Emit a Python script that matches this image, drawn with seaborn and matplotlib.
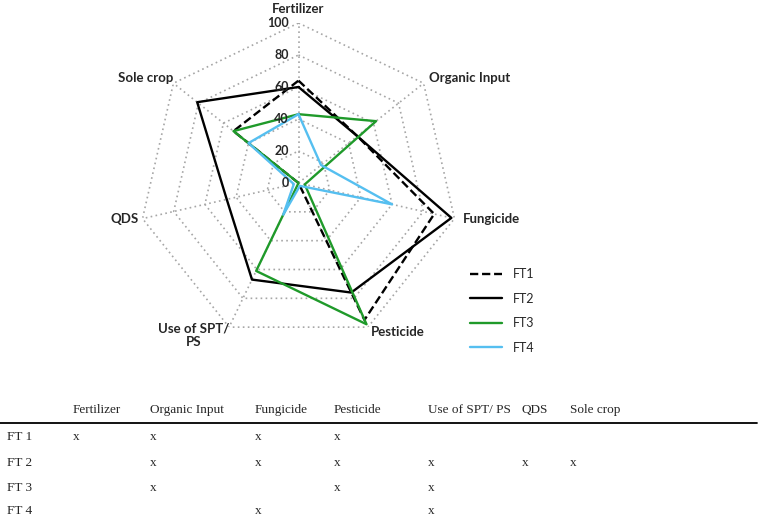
import numpy as np
import pandas as pd
import matplotlib
matplotlib.use("Agg")
import matplotlib.pyplot as plt
import seaborn as sns
from matplotlib.lines import Line2D

# radar data (0-100 scale)
categories = ['Fertilizer', 'Organic Input', 'Fungicide', 'Pesticide',
              'Use of SPT/\nPS', 'QDS', 'Sole crop']
series_names = ['FT1', 'FT2', 'FT3', 'FT4']
ft1 = [64, 47, 87, 95, 0, 0, 52]
ft2 = [60, 47, 98, 76, 67, 46, 81]
ft3 = [43, 62, 4, 98, 61, 0, 52]
ft4 = [43, 18, 60, 2, 22, 3, 40]
radial_ticks = [0, 20, 40, 60, 80, 100]

# table under the radar
table_columns = ['Fertilizer', 'Organic Input', 'Fungicide', 'Pesticide',
                 'Use of SPT/ PS', 'QDS', 'Sole crop']
table_rows = ['FT 1', 'FT 2', 'FT 3', 'FT 4']
ft1_marks = [1, 1, 1, 1, 0, 0, 0]
ft2_marks = [0, 1, 1, 1, 1, 1, 1]
ft3_marks = [0, 1, 0, 1, 1, 0, 0]
ft4_marks = [0, 0, 1, 0, 1, 0, 0]

sns.set_theme(style='white')
plt.rcParams['font.family'] = ['Lato', 'DejaVu Sans']

W, H = 765, 516
fig = plt.figure(figsize=(W / 100, H / 100), dpi=100)

# polar axes: center (298.5, 183) px, radius 160 px
cx, cy, rad = 298.5, 183, 160
ax = fig.add_axes([(cx - rad) / W, (H - cy - rad) / H, 2 * rad / W, 2 * rad / H],
                  projection='polar')
ax.set_theta_offset(np.pi / 2)
ax.set_theta_direction(-1)

n = len(categories)
angles = np.linspace(0, 2 * np.pi, n, endpoint=False)
closed = np.append(angles, 2 * np.pi)

# heptagon grid, dotted
grid_kw = dict(color='#a6a6a6', lw=1.2, linestyle=(0, (1, 2)), zorder=1)
for t in radial_ticks[1:]:
    ax.plot(closed, [t] * (n + 1), **grid_kw)
for a in angles:
    ax.plot([a, a], [0, 100], **grid_kw)

rows = []
for name, vals in zip(series_names, [ft1, ft2, ft3, ft4]):
    for a, v in zip(closed, vals + [vals[0]]):
        rows.append({'series': name, 'theta': a, 'value': v})
df = pd.DataFrame(rows)

palette = {'FT1': 'black', 'FT2': 'black', 'FT3': '#1f9a2a', 'FT4': '#55bff0'}
dashes = {'FT1': (3.5, 1.6), 'FT2': '', 'FT3': '', 'FT4': ''}
sns.lineplot(data=df, x='theta', y='value', hue='series', style='series',
             palette=palette, dashes=dashes, sort=False, estimator=None,
             linewidth=1.7, ax=ax, zorder=3)

ax.set_ylim(0, 100)
ax.grid(False)
ax.spines['polar'].set_visible(False)
ax.set_xticks([])
ax.set_yticks([])
ax.set_xlabel('')
ax.set_ylabel('')

for t in radial_ticks:
    ax.annotate(str(t), xy=(0, t), xytext=(-7, 0), textcoords='offset points',
                ha='right', va='center', fontsize=9, fontweight='bold')

label_kw = [
    dict(ha='center', va='bottom', off=(0, 6)),
    dict(ha='left', va='center', off=(4, 4)),
    dict(ha='left', va='center', off=(6, 0)),
    dict(ha='left', va='top', off=(2, 1)),
    dict(ha='right', va='center', off=(0, -6)),
    dict(ha='right', va='center', off=(-3, 0)),
    dict(ha='right', va='center', off=(0, 4)),
]
for a, lab, kw in zip(angles, categories, label_kw):
    ax.annotate(lab, xy=(a, 100), xytext=kw['off'], textcoords='offset points',
                ha=kw['ha'], va=kw['va'], fontsize=9.5, fontweight='bold',
                multialignment='center', annotation_clip=False)

sns.move_legend(ax, loc='upper left', bbox_to_anchor=(459 / W, 1 - 257 / H),
                bbox_transform=fig.transFigure, frameon=False, title=None,
                fontsize=9, handlelength=2.55, labelspacing=1.0, handletextpad=0.9)

# table drawn in pixel coordinates
tab = fig.add_axes([0, 0, 1, 1], zorder=-1)
tab.set_xlim(0, W)
tab.set_ylim(H, 0)
tab.axis('off')
serif = ['Liberation Serif', 'DejaVu Serif']
col_x = [73, 150, 255, 334, 428, 522, 570]
row_y = [437, 463, 488, 511]
for x, c in zip(col_x, table_columns):
    tab.text(x, 410, c, ha='left', va='center', fontsize=9.5, family=serif)
tab.add_line(Line2D([0, 757], [423, 423], color='black', lw=1.3))
for y, r, marks in zip(row_y, table_rows, [ft1_marks, ft2_marks, ft3_marks, ft4_marks]):
    tab.text(7, y, r, ha='left', va='center', fontsize=9.5, family=serif)
    for x, m in zip(col_x, marks):
        if m:
            tab.text(x, y, 'x', ha='left', va='center', fontsize=9.5, family=serif)

fig.savefig('out.png', dpi=100)
